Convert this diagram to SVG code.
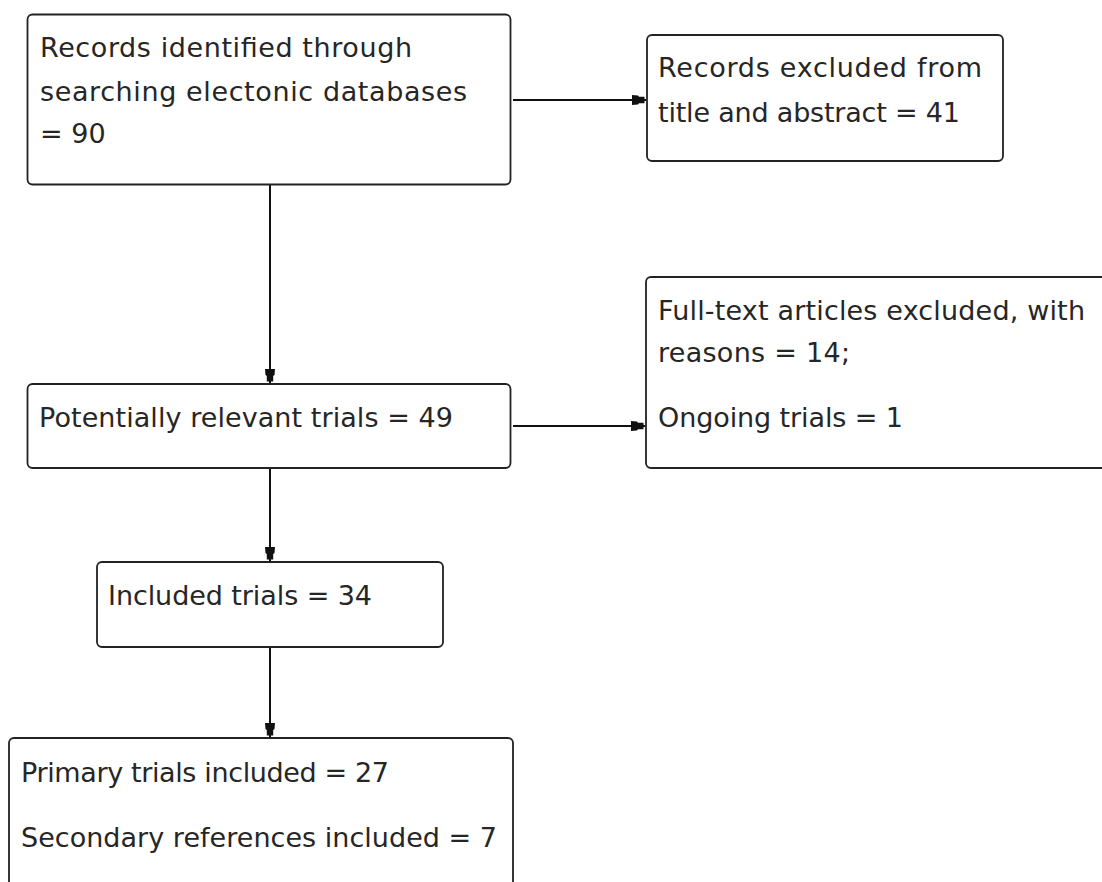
<svg xmlns="http://www.w3.org/2000/svg" width="1102" height="882" viewBox="0 0 1102 882">
<style>
.box{fill:#fff;stroke:#222;stroke-width:1.8}
.t{font-family:"DejaVu Sans",Verdana,sans-serif;font-size:27px;fill:#262626}
.c{fill:none;stroke:#111;stroke-width:2}
</style>
<defs>
<marker id="arr" viewBox="-16 -7 17 14" refX="0" refY="0" markerWidth="17" markerHeight="14" markerUnits="userSpaceOnUse" orient="auto">
<path d="M-14,-5 L-8,-4.5 L-7,-3.2 L-1.5,-3.2 L-1.5,3.2 L-7,3.2 L-8,4.5 L-14,5 Z" fill="#111"/>
</marker>
</defs>
<rect width="1102" height="882" fill="#fff"/>
<g id="connectors">
<line class="c" x1="270" y1="185" x2="270" y2="383" marker-end="url(#arr)"/>
<line class="c" x1="513" y1="100" x2="646" y2="100" marker-end="url(#arr)"/>
<line class="c" x1="270" y1="469" x2="270" y2="561" marker-end="url(#arr)"/>
<line class="c" x1="513" y1="426" x2="645" y2="426" marker-end="url(#arr)"/>
<line class="c" x1="270" y1="648" x2="270" y2="737" marker-end="url(#arr)"/>
</g>
<g id="records-identified">
<rect class="box" x="27.5" y="14.5" width="483" height="170" rx="5"/>
<text class="t" x="40" y="57" textLength="372" lengthAdjust="spacing">Records identified through</text>
<text class="t" x="40" y="101" textLength="427" lengthAdjust="spacing">searching electonic databases</text>
<text class="t" x="40" y="143">= 90</text>
</g>
<g id="records-excluded">
<rect class="box" x="647" y="35" width="356" height="126" rx="5"/>
<text class="t" x="658" y="77" textLength="324" lengthAdjust="spacing">Records excluded from</text>
<text class="t" x="658" y="122" textLength="302" lengthAdjust="spacing">title and abstract = 41</text>
</g>
<g id="fulltext-excluded">
<rect class="box" x="646" y="277" width="480" height="191" rx="5"/>
<text class="t" x="658" y="320" textLength="427" lengthAdjust="spacing">Full-text articles excluded, with</text>
<text class="t" x="658" y="362" textLength="192" lengthAdjust="spacing">reasons = 14;</text>
<text class="t" x="658" y="427" textLength="245" lengthAdjust="spacing">Ongoing trials = 1</text>
</g>
<g id="potentially-relevant">
<rect class="box" x="27.5" y="384" width="483" height="84" rx="5"/>
<text class="t" x="39" y="427" textLength="414" lengthAdjust="spacing">Potentially relevant trials = 49</text>
</g>
<g id="included-trials">
<rect class="box" x="97" y="562" width="346" height="85" rx="5"/>
<text class="t" x="108" y="605" textLength="264" lengthAdjust="spacing">Included trials = 34</text>
</g>
<g id="primary-secondary">
<rect class="box" x="9" y="738" width="504" height="170" rx="5"/>
<text class="t" x="21" y="782" textLength="368" lengthAdjust="spacing">Primary trials included = 27</text>
<text class="t" x="21" y="847" textLength="476" lengthAdjust="spacing">Secondary references included = 7</text>
</g>
</svg>
